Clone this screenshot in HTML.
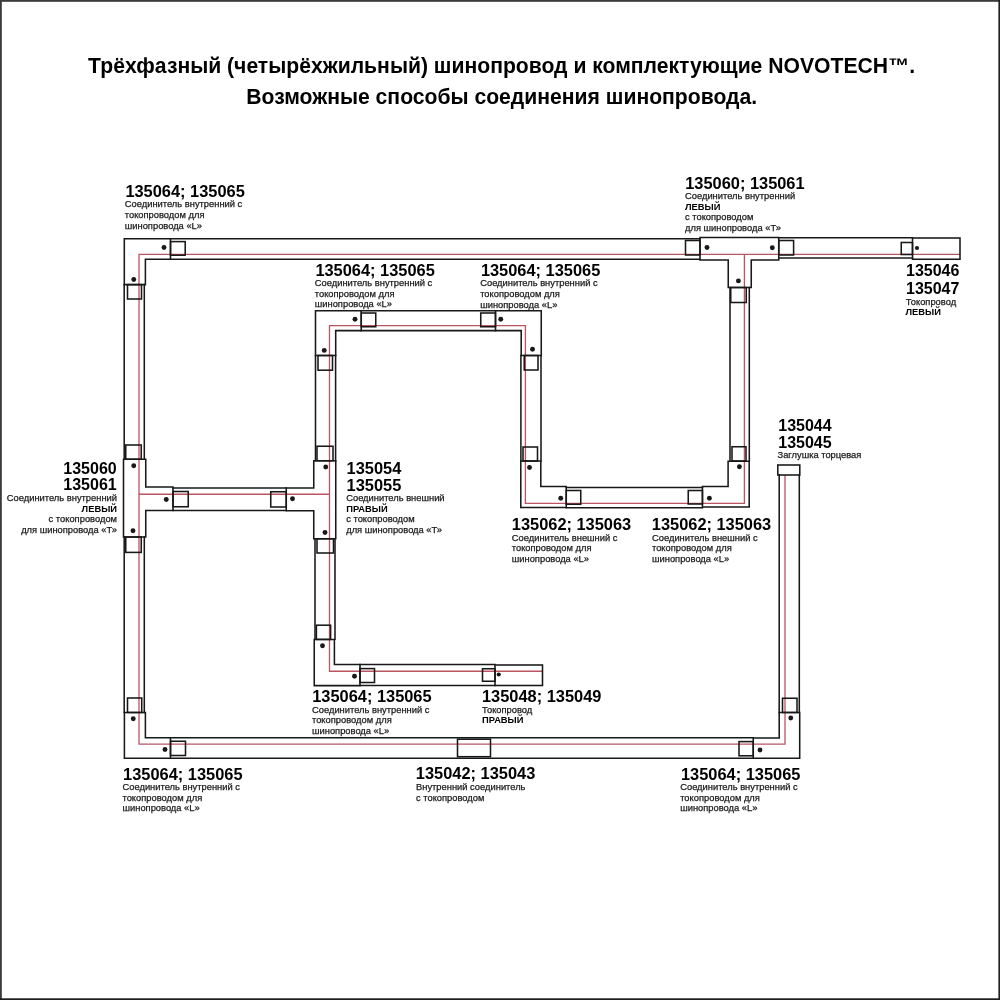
<!DOCTYPE html>
<html lang="ru"><head><meta charset="utf-8"><title>NOVOTECH</title>
<style>
html,body{margin:0;padding:0;background:#fff;}
body{width:1000px;height:1000px;overflow:hidden;position:relative;font-family:"Liberation Sans",sans-serif;}
svg{position:absolute;left:0;top:0;will-change:transform;transform:translateZ(0);}
</style></head><body>
<svg width="1000" height="1000" viewBox="0 0 1000 1000">
<g fill="none" stroke="#ba5561" stroke-width="1.3" stroke-linejoin="miter">
<path d="M960,254.4 L139,254.4 L139,744.2 L785,744.2 L785,475"/>
<path d="M139,494.25 L329.5,494.25"/>
<path d="M744.4,254.4 L744.4,503.3 L525.4,503.3 L525.4,325.6 L329.5,325.6 L329.5,671.25 L542,671.25"/>
</g>
<g fill="none" stroke="#181818" stroke-width="1.55" stroke-linecap="square" stroke-linejoin="miter">
<path d="M170.5,238.8 L700,238.8"/>
<path d="M170.5,259.3 L700,259.3"/>
<path d="M778.75,237.8 L912.5,237.8"/>
<path d="M778.75,258 L912.5,258"/>
<path d="M124.2,284.6 L124.2,459.25"/>
<path d="M144.3,284.6 L144.3,459.25"/>
<path d="M124.2,537 L124.2,712.5"/>
<path d="M144.3,537 L144.3,712.5"/>
<path d="M170.5,737.7 L753.25,737.7"/>
<path d="M170.5,758.2 L753.25,758.2"/>
<path d="M779.2,475 L779.2,712.5"/>
<path d="M799.3,475 L799.3,712.5"/>
<path d="M730,287.5 L730,461"/>
<path d="M749.3,287.5 L749.3,461"/>
<path d="M566.25,487.5 L702.5,487.5"/>
<path d="M566.25,507.8 L702.5,507.8"/>
<path d="M520.9,355.5 L520.9,461"/>
<path d="M541,355.5 L541,461"/>
<path d="M361.25,310.8 L495.5,310.8"/>
<path d="M361.25,330.6 L495.5,330.6"/>
<path d="M315.5,355.5 L315.5,460.75"/>
<path d="M335.6,355.5 L335.6,460.75"/>
<path d="M315.0,538.75 L315.0,639.3"/>
<path d="M335.0,538.75 L335.0,639.3"/>
<path d="M173,488 L286.25,488"/>
<path d="M173,510.5 L286.25,510.5"/>
<path d="M360,664.5 L495,664.5"/>
<path d="M360,685.5 L495,685.5"/>
<path d="M124.3,238.8 L170.5,238.8 L170.5,259.3 L145.4,259.3 L145.4,284.6 L124.3,284.6 Z"/>
<path d="M124.4,712.5 L145.4,712.5 L145.4,737.7 L170.5,737.7 L170.5,758.2 L124.4,758.2 Z"/>
<path d="M779.2,712.5 L799.7,712.5 L799.7,758.2 L753.25,758.2 L753.25,738 L779.2,738 Z"/>
<path d="M315.5,310.8 L361.25,310.8 L361.25,330.6 L335.7,330.6 L335.7,355.5 L315.5,355.5 Z"/>
<path d="M495.5,310.8 L541.25,310.8 L541.25,355.5 L521.2,355.5 L521.2,330.6 L495.5,330.6 Z"/>
<path d="M520.8,461 L540.8,461 L540.8,486.5 L566.25,486.5 L566.25,507.4 L520.8,507.4 Z"/>
<path d="M728.1,461.2 L749.2,461.2 L749.2,507 L702.4,507 L702.4,486.5 L728.1,486.5 Z"/>
<path d="M314.25,639.4 L334.4,639.4 L334.4,664.5 L360,664.5 L360,685.6 L314.25,685.6 Z"/>
<path d="M700,237.5 L778.75,237.5 L778.75,260 L751.25,260 L751.25,287.5 L728.25,287.5 L728.25,260 L700,260 Z"/>
<path d="M123.5,459.25 L145.75,459.25 L145.75,487 L173,487 L173,510.5 L145.75,510.5 L145.75,537 L123.5,537 Z"/>
<path d="M313.75,460.75 L335.75,460.75 L335.75,538.75 L313.75,538.75 L313.75,510.75 L286.25,510.75 L286.25,488 L313.75,488 Z"/>
<rect x="912.5" y="238" width="47.5" height="21.25"/>
<rect x="495" y="665" width="47.5" height="20.5"/>
<rect x="777.8" y="465" width="22.0" height="10"/>
<rect x="457.5" y="739.2" width="33.0" height="17.5"/>
<rect x="170.5" y="241.6" width="14.7" height="13.6"/>
<rect x="127.5" y="284.6" width="14.0" height="14.4"/>
<rect x="125.75" y="445" width="15.5" height="14.25"/>
<rect x="125.75" y="537" width="15.5" height="15.4"/>
<rect x="173" y="491.5" width="15.25" height="15.25"/>
<rect x="127.5" y="698" width="14.25" height="14.5"/>
<rect x="170.5" y="741.25" width="15.0" height="14.25"/>
<rect x="782.5" y="698.25" width="14.5" height="14.25"/>
<rect x="739" y="741.6" width="14.25" height="14.2"/>
<rect x="685.5" y="240.5" width="14.5" height="14.5"/>
<rect x="778.75" y="240.5" width="14.85" height="14.5"/>
<rect x="730.75" y="287.5" width="15.5" height="15.0"/>
<rect x="901.25" y="242.5" width="11.25" height="12.0"/>
<rect x="361.25" y="313" width="14.5" height="13.75"/>
<rect x="318" y="355.5" width="14.5" height="14.7"/>
<rect x="480.75" y="313" width="14.75" height="13.75"/>
<rect x="524.25" y="355.5" width="13.75" height="14.5"/>
<rect x="317" y="446.25" width="16" height="14.5"/>
<rect x="317" y="538.75" width="16.5" height="14.25"/>
<rect x="270.75" y="491.75" width="15.5" height="15.25"/>
<rect x="523" y="447" width="14.5" height="14"/>
<rect x="566.25" y="490.5" width="14.5" height="13.75"/>
<rect x="732" y="446.75" width="14" height="14.25"/>
<rect x="688.25" y="490.5" width="14.25" height="13.5"/>
<rect x="316.4" y="625.2" width="14.2" height="14.2"/>
<rect x="360" y="668.6" width="14.5" height="13.9"/>
<rect x="482.5" y="668.75" width="12.5" height="12.5"/>
</g>
<g fill="#181818">
<circle cx="164" cy="247.5" r="2.45"/>
<circle cx="133.75" cy="279.5" r="2.45"/>
<circle cx="133.75" cy="465.75" r="2.45"/>
<circle cx="166.25" cy="499.5" r="2.45"/>
<circle cx="133" cy="530.75" r="2.45"/>
<circle cx="133.25" cy="718.75" r="2.45"/>
<circle cx="165" cy="749.5" r="2.45"/>
<circle cx="790.75" cy="718" r="2.45"/>
<circle cx="760" cy="750" r="2.45"/>
<circle cx="707" cy="247.5" r="2.45"/>
<circle cx="772.3" cy="247.8" r="2.45"/>
<circle cx="738.4" cy="280.9" r="2.45"/>
<circle cx="917" cy="248" r="2.1"/>
<circle cx="355" cy="319.25" r="2.45"/>
<circle cx="324.25" cy="350.4" r="2.45"/>
<circle cx="500.75" cy="319.25" r="2.45"/>
<circle cx="532.5" cy="349.25" r="2.45"/>
<circle cx="325.75" cy="467" r="2.45"/>
<circle cx="292.5" cy="498.75" r="2.45"/>
<circle cx="325" cy="532.5" r="2.45"/>
<circle cx="529.5" cy="467.5" r="2.45"/>
<circle cx="560.75" cy="498.25" r="2.45"/>
<circle cx="739.4" cy="466.75" r="2.45"/>
<circle cx="709.4" cy="498.25" r="2.45"/>
<circle cx="322.5" cy="645.75" r="2.45"/>
<circle cx="354.5" cy="676.25" r="2.45"/>
<circle cx="498.75" cy="674.5" r="2.1"/>
</g>
<g font-family="'Liberation Sans', sans-serif">
<text x="501.6" y="73" font-size="21.15" font-weight="bold" text-anchor="middle" fill="#000">Трёхфазный (четырёхжильный) шинопровод и комплектующие NOVOTECH™.</text>
<text x="501.7" y="103.75" font-size="21.15" font-weight="bold" text-anchor="middle" fill="#000">Возможные способы соединения шинопровода.</text>
<text x="125.4" y="197.3" font-size="16.4" font-weight="bold" fill="#000">135064; 135065</text>
<text x="124.8" y="207.4" font-size="9.35" fill="#1a1a1a" stroke="#1a1a1a" stroke-width="0.25">Соединитель внутренний с</text>
<text x="124.8" y="217.95" font-size="9.35" fill="#1a1a1a" stroke="#1a1a1a" stroke-width="0.25">токопроводом для</text>
<text x="124.8" y="228.5" font-size="9.35" fill="#1a1a1a" stroke="#1a1a1a" stroke-width="0.25">шинопровода «L»</text>
<text x="315.4" y="275.6" font-size="16.4" font-weight="bold" fill="#000">135064; 135065</text>
<text x="314.8" y="285.85" font-size="9.35" fill="#1a1a1a" stroke="#1a1a1a" stroke-width="0.25">Соединитель внутренний с</text>
<text x="314.8" y="296.5" font-size="9.35" fill="#1a1a1a" stroke="#1a1a1a" stroke-width="0.25">токопроводом для</text>
<text x="314.8" y="307.15" font-size="9.35" fill="#1a1a1a" stroke="#1a1a1a" stroke-width="0.25">шинопровода «L»</text>
<text x="480.9" y="275.6" font-size="16.4" font-weight="bold" fill="#000">135064; 135065</text>
<text x="480.2" y="286.2" font-size="9.35" fill="#1a1a1a" stroke="#1a1a1a" stroke-width="0.25">Соединитель внутренний с</text>
<text x="480.2" y="296.85" font-size="9.35" fill="#1a1a1a" stroke="#1a1a1a" stroke-width="0.25">токопроводом для</text>
<text x="480.2" y="307.5" font-size="9.35" fill="#1a1a1a" stroke="#1a1a1a" stroke-width="0.25">шинопровода «L»</text>
<text x="511.8" y="530.1" font-size="16.4" font-weight="bold" fill="#000">135062; 135063</text>
<text x="511.8" y="540.6" font-size="9.35" fill="#1a1a1a" stroke="#1a1a1a" stroke-width="0.25">Соединитель внешний с</text>
<text x="511.8" y="551.25" font-size="9.35" fill="#1a1a1a" stroke="#1a1a1a" stroke-width="0.25">токопроводом для</text>
<text x="511.8" y="561.9" font-size="9.35" fill="#1a1a1a" stroke="#1a1a1a" stroke-width="0.25">шинопровода «L»</text>
<text x="651.8" y="530.1" font-size="16.4" font-weight="bold" fill="#000">135062; 135063</text>
<text x="652.0" y="540.6" font-size="9.35" fill="#1a1a1a" stroke="#1a1a1a" stroke-width="0.25">Соединитель внешний с</text>
<text x="652.0" y="551.25" font-size="9.35" fill="#1a1a1a" stroke="#1a1a1a" stroke-width="0.25">токопроводом для</text>
<text x="652.0" y="561.9" font-size="9.35" fill="#1a1a1a" stroke="#1a1a1a" stroke-width="0.25">шинопровода «L»</text>
<text x="312.2" y="702.35" font-size="16.4" font-weight="bold" fill="#000">135064; 135065</text>
<text x="312.0" y="712.75" font-size="9.35" fill="#1a1a1a" stroke="#1a1a1a" stroke-width="0.25">Соединитель внутренний с</text>
<text x="312.0" y="723.4" font-size="9.35" fill="#1a1a1a" stroke="#1a1a1a" stroke-width="0.25">токопроводом для</text>
<text x="312.0" y="734.05" font-size="9.35" fill="#1a1a1a" stroke="#1a1a1a" stroke-width="0.25">шинопровода «L»</text>
<text x="123.1" y="779.5" font-size="16.4" font-weight="bold" fill="#000">135064; 135065</text>
<text x="122.5" y="789.9" font-size="9.35" fill="#1a1a1a" stroke="#1a1a1a" stroke-width="0.25">Соединитель внутренний с</text>
<text x="122.5" y="800.55" font-size="9.35" fill="#1a1a1a" stroke="#1a1a1a" stroke-width="0.25">токопроводом для</text>
<text x="122.5" y="811.2" font-size="9.35" fill="#1a1a1a" stroke="#1a1a1a" stroke-width="0.25">шинопровода «L»</text>
<text x="681.0" y="779.5" font-size="16.4" font-weight="bold" fill="#000">135064; 135065</text>
<text x="680.2" y="789.9" font-size="9.35" fill="#1a1a1a" stroke="#1a1a1a" stroke-width="0.25">Соединитель внутренний с</text>
<text x="680.2" y="800.55" font-size="9.35" fill="#1a1a1a" stroke="#1a1a1a" stroke-width="0.25">токопроводом для</text>
<text x="680.2" y="811.2" font-size="9.35" fill="#1a1a1a" stroke="#1a1a1a" stroke-width="0.25">шинопровода «L»</text>
<text x="685.2" y="188.85" font-size="16.4" font-weight="bold" fill="#000">135060; 135061</text>
<text x="685" y="198.9" font-size="9.35" fill="#1a1a1a" stroke="#1a1a1a" stroke-width="0.25">Соединитель внутренний</text>
<text x="685" y="209.5" font-size="9.35" font-weight="bold" fill="#000">ЛЕВЫЙ</text>
<text x="685" y="220.2" font-size="9.35" fill="#1a1a1a" stroke="#1a1a1a" stroke-width="0.25">с токопроводом</text>
<text x="685" y="230.9" font-size="9.35" fill="#1a1a1a" stroke="#1a1a1a" stroke-width="0.25">для шинопровода «Т»</text>
<text x="116.7" y="473.75" font-size="16.0" font-weight="bold" text-anchor="end" fill="#000">135060</text>
<text x="116.7" y="490.4" font-size="16.0" font-weight="bold" text-anchor="end" fill="#000">135061</text>
<text x="117" y="500.6" font-size="9.35" text-anchor="end" fill="#1a1a1a" stroke="#1a1a1a" stroke-width="0.25">Соединитель внутренний</text>
<text x="117" y="511.8" font-size="9.35" font-weight="bold" text-anchor="end" fill="#000">ЛЕВЫЙ</text>
<text x="117" y="521.9" font-size="9.35" text-anchor="end" fill="#1a1a1a" stroke="#1a1a1a" stroke-width="0.25">с токопроводом</text>
<text x="117" y="532.6" font-size="9.35" text-anchor="end" fill="#1a1a1a" stroke="#1a1a1a" stroke-width="0.25">для шинопровода «Т»</text>
<text x="346.6" y="474.1" font-size="16.4" font-weight="bold" fill="#000">135054</text>
<text x="346.6" y="490.5" font-size="16.4" font-weight="bold" fill="#000">135055</text>
<text x="346.2" y="500.6" font-size="9.35" fill="#1a1a1a" stroke="#1a1a1a" stroke-width="0.25">Соединитель внешний</text>
<text x="346.2" y="511.9" font-size="9.35" font-weight="bold" fill="#000">ПРАВЫЙ</text>
<text x="346.2" y="522.1" font-size="9.35" fill="#1a1a1a" stroke="#1a1a1a" stroke-width="0.25">с токопроводом</text>
<text x="346.2" y="532.6" font-size="9.35" fill="#1a1a1a" stroke="#1a1a1a" stroke-width="0.25">для шинопровода «Т»</text>
<text x="906" y="276.1" font-size="16.0" font-weight="bold" fill="#000">135046</text>
<text x="906" y="294.4" font-size="16.0" font-weight="bold" fill="#000">135047</text>
<text x="905.8" y="304.7" font-size="9.35" fill="#1a1a1a" stroke="#1a1a1a" stroke-width="0.25">Токопровод</text>
<text x="905.5" y="315.3" font-size="9.35" font-weight="bold" fill="#000">ЛЕВЫЙ</text>
<text x="778.25" y="431.3" font-size="16.0" font-weight="bold" fill="#000">135044</text>
<text x="778.25" y="447.8" font-size="16.0" font-weight="bold" fill="#000">135045</text>
<text x="777.5" y="458.3" font-size="9.35" fill="#1a1a1a" stroke="#1a1a1a" stroke-width="0.25">Заглушка торцевая</text>
<text x="482" y="701.75" font-size="16.4" font-weight="bold" fill="#000">135048; 135049</text>
<text x="482" y="712.5" font-size="9.35" fill="#1a1a1a" stroke="#1a1a1a" stroke-width="0.25">Токопровод</text>
<text x="482" y="723.1" font-size="9.35" font-weight="bold" fill="#000">ПРАВЫЙ</text>
<text x="415.85" y="779.25" font-size="16.4" font-weight="bold" fill="#000">135042; 135043</text>
<text x="416.0" y="789.5" font-size="9.35" fill="#1a1a1a" stroke="#1a1a1a" stroke-width="0.25">Внутренний соединитель</text>
<text x="416.0" y="800.5" font-size="9.35" fill="#1a1a1a" stroke="#1a1a1a" stroke-width="0.25">с токопроводом</text>
</g>
<g><rect x="0" y="0" width="1000" height="1.8" fill="#3a3a3a"/><rect x="0" y="0" width="1.8" height="1000" fill="#3a3a3a"/><rect x="0" y="998.3" width="1000" height="1.7" fill="#1e1e1e"/><rect x="998.4" y="0" width="1.6" height="1000" fill="#1e1e1e"/></g>
</svg>

</body></html>
